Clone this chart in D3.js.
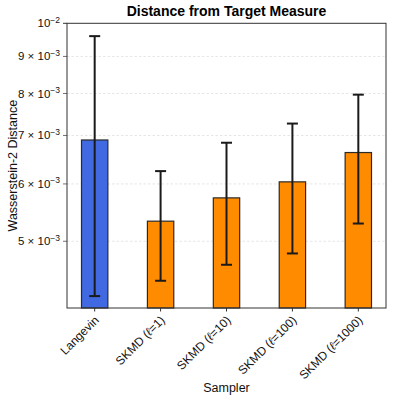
<!DOCTYPE html>
<html>
<head>
<meta charset="utf-8">
<script src="https://cdn.jsdelivr.net/npm/d3@7"></script>
<style>
  body { margin: 0; background: #fff; }
  text { font-family: "Liberation Sans", Arial, sans-serif; }
</style>
</head>
<body>
<script>
// chart data
let samplers = ["Langevin", "SKMD (ℓ=1)", "SKMD (ℓ=10)", "SKMD (ℓ=100)", "SKMD (ℓ=1000)"];
let means = [6.90e-3, 5.33e-3, 5.74e-3, 6.04e-3, 6.63e-3];
let stds = [2.70e-3, 0.92e-3, 1.10e-3, 1.23e-3, 1.34e-3];
let colors = ["#4169e1", "#ff8c00", "#ff8c00", "#ff8c00", "#ff8c00"];
let yTicks = [5e-3, 6e-3, 7e-3, 8e-3, 9e-3, 1e-2];
let yTickLabels = [["5 × 10", "−3"], ["6 × 10", "−3"], ["7 × 10", "−3"], ["8 × 10", "−3"], ["9 × 10", "−3"], ["10", "−2"]];

let width = 394, height = 404;
let plotLeft = 67, plotRight = 386, plotTop = 23.3, plotBottom = 308;

let svg = d3.select("body").append("svg")
  .attr("width", width)
  .attr("height", height);

let x = d3.scaleLinear().domain([-0.42, 4.42]).range([plotLeft, plotRight]);
let y = d3.scaleLog().domain([4.044e-3, 1e-2]).range([plotBottom, plotTop]);
let barW = x(0.4) - x(0);

// grid
svg.append("g").selectAll("line")
  .data(yTicks.slice(0, 5))
  .join("line")
  .attr("x1", plotLeft).attr("x2", plotRight)
  .attr("y1", d => y(d)).attr("y2", d => y(d))
  .attr("stroke", "#ccc")
  .attr("stroke-width", 0.7)
  .attr("stroke-dasharray", "2.5,2")
  .attr("opacity", 0.7);

// bars
svg.append("g").selectAll("rect")
  .data(means)
  .join("rect")
  .attr("x", (d, i) => x(i) - barW / 2)
  .attr("width", barW)
  .attr("y", d => y(d))
  .attr("height", d => plotBottom - y(d))
  .attr("fill", (d, i) => colors[i])
  .attr("stroke", "#2a2a2a")
  .attr("stroke-width", 1.2);

// error bars
let eb = svg.append("g").attr("stroke", "#1a1a1a").attr("stroke-width", 2);
means.forEach((m, i) => {
  let lo = Math.max(m - stds[i], 4.05e-3), hi = m + stds[i];
  eb.append("line").attr("x1", x(i)).attr("x2", x(i)).attr("y1", y(lo)).attr("y2", y(hi));
  eb.append("line").attr("x1", x(i) - 5.5).attr("x2", x(i) + 5.5).attr("y1", y(lo)).attr("y2", y(lo));
  eb.append("line").attr("x1", x(i) - 5.5).attr("x2", x(i) + 5.5).attr("y1", y(hi)).attr("y2", y(hi));
});

// frame
svg.append("rect")
  .attr("x", plotLeft).attr("y", plotTop)
  .attr("width", plotRight - plotLeft).attr("height", plotBottom - plotTop)
  .attr("fill", "none")
  .attr("stroke", "#333")
  .attr("stroke-width", 1);

// y ticks
let yt = svg.append("g").selectAll("g")
  .data(yTicks)
  .join("g")
  .attr("transform", d => `translate(0,${y(d)})`);
yt.append("line").attr("x1", plotLeft - 4).attr("x2", plotLeft).attr("stroke", "#333").attr("stroke-width", d => d === 1e-2 ? 1 : 0.7);
let yl = yt.append("text")
  .attr("x", plotLeft - 7)
  .attr("dy", "0.35em")
  .attr("text-anchor", "end")
  .attr("font-size", 11.5)
  .attr("fill", "#111");
yl.append("tspan").text((d, i) => yTickLabels[i][0]);
yl.append("tspan").attr("dy", "-0.55em").attr("font-size", 8.5).text((d, i) => yTickLabels[i][1]);

// x ticks
let xt = svg.append("g").selectAll("g")
  .data(samplers)
  .join("g")
  .attr("transform", (d, i) => `translate(${x(i)},${plotBottom})`);
xt.append("line").attr("y2", 3.5).attr("stroke", "#333");
let xl = xt.append("text")
  .attr("transform", "translate(2,10) rotate(-45)")
  .attr("text-anchor", "end")
  .attr("dy", "0.35em")
  .attr("font-size", 12)
  .attr("fill", "#111");
xl.each(function(d) {
  let parts = d.split("ℓ");
  let t = d3.select(this);
  t.append("tspan").text(parts[0]);
  if (parts.length > 1) {
    t.append("tspan").attr("font-style", "italic").text("ℓ");
    t.append("tspan").text(parts[1]);
  }
});

// titles
svg.append("text")
  .attr("x", (plotLeft + plotRight) / 2).attr("y", 16)
  .attr("text-anchor", "middle")
  .attr("font-size", 14)
  .attr("font-weight", "bold")
  .text("Distance from Target Measure");

svg.append("text")
  .attr("x", (plotLeft + plotRight) / 2).attr("y", 392)
  .attr("text-anchor", "middle")
  .attr("font-size", 12.5)
  .attr("fill", "#111")
  .text("Sampler");

svg.append("text")
  .attr("transform", `translate(17,${(plotTop + plotBottom) / 2}) rotate(-90)`)
  .attr("text-anchor", "middle")
  .attr("font-size", 12.5)
  .attr("fill", "#111")
  .text("Wasserstein-2 Distance");
</script>
</body>
</html>
